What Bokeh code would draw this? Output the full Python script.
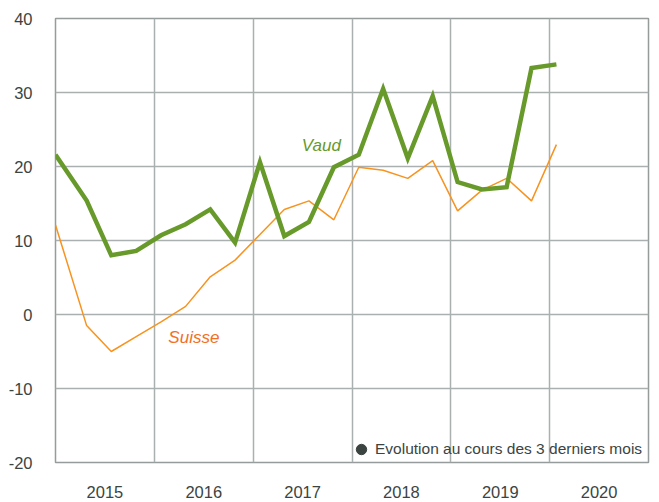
import pandas as pd
from bokeh.plotting import figure
from bokeh.models import FixedTicker, Label, Legend, LegendItem, ColumnDataSource, Range1d
from bokeh.embed import file_html
from bokeh.resources import INLINE

# ---- data ----
dates = ["2015-01-01", "2015-04-26", "2015-07-26", "2015-10-26",
         "2016-01-26", "2016-04-26", "2016-07-26", "2016-10-26",
         "2017-01-26", "2017-04-26", "2017-07-26", "2017-10-26",
         "2018-01-26", "2018-04-26", "2018-07-26", "2018-10-26",
         "2019-01-26", "2019-04-26", "2019-07-26", "2019-10-26",
         "2020-01-26"]
vaud = [21.6, 15.4, 8.0, 8.6, 10.7, 12.2, 14.2, 9.7, 20.6, 10.6, 12.5, 19.9,
        21.6, 30.5, 21.1, 29.5, 17.9, 16.9, 17.2, 33.3, 33.8]
suisse = [12.1, -1.5, -5.0, -3.0, -1.0, 1.1, 5.1, 7.35, 10.8, 14.2, 15.35, 12.8,
          19.9, 19.5, 18.4, 20.8, 14.0, 16.8, 18.4, 15.35, 22.95]
years = [2015, 2016, 2017, 2018, 2019, 2020]
y_ticks = [-20, -10, 0, 10, 20, 30, 40]
legend_text = "Evolution au cours des 3 derniers mois"

# ---- conversion of dates to fractional years ----
dt = pd.to_datetime(dates)
xfrac = [d.year + (d.dayofyear - 1) / (366 if d.is_leap_year else 365) for d in dt]
src = ColumnDataSource(dict(x=xfrac, vaud=vaud, suisse=suisse))

FONT = "Liberation Sans"
GRID = "#aab0af"
TXT = "#3c4442"
GREEN = "#679a2a"
ORANGE = "#f7931e"

p = figure(width=655, height=500, output_backend="svg", toolbar_location=None,
           x_range=Range1d(years[0], years[-1] + 1), y_range=Range1d(-20, 40),
           min_border_left=55, min_border_right=7, min_border_top=18, min_border_bottom=37)

p.outline_line_color = "#959c9b"
p.outline_line_width = 1.5
p.background_fill_color = "white"
p.border_fill_color = "white"

# grid
p.xgrid.ticker = FixedTicker(ticks=years + [years[-1] + 1])
p.ygrid.ticker = FixedTicker(ticks=y_ticks)
for g in (p.xgrid, p.ygrid):
    g.grid_line_color = GRID
    g.grid_line_width = 1.5

# axes
p.xaxis.ticker = FixedTicker(ticks=[y + 0.5 for y in years])
p.xaxis.major_label_overrides = {y + 0.5: str(y) for y in years}
p.yaxis.ticker = FixedTicker(ticks=y_ticks)
p.yaxis.major_label_overrides = {v: str(v) for v in y_ticks}
for ax in (p.xaxis, p.yaxis):
    ax.axis_line_color = None
    ax.major_tick_line_color = None
    ax.minor_tick_line_color = None
    ax.major_label_text_font = FONT
    ax.major_label_text_font_size = "16.5px"
    ax.major_label_text_color = TXT
p.yaxis.major_label_standoff = 17
p.xaxis.major_label_standoff = 17

# lines
p.line("x", "suisse", source=src, line_color=ORANGE, line_width=1.5)
p.line("x", "vaud", source=src, line_color=GREEN, line_width=4.5, line_join="miter")

# series labels
p.add_layout(Label(x=2017.69, y=22.9, text="Vaud", text_font=FONT, text_font_style="italic",
                   text_font_size="17px", text_color=GREEN, text_align="center",
                   text_baseline="middle"))
p.add_layout(Label(x=2016.40, y=-3.1, text="Suisse", text_font=FONT, text_font_style="italic",
                   text_font_size="17px", text_color="#f36f21", text_align="center",
                   text_baseline="middle"))

# legend (marker-only entry, no mark drawn in the plot)
dummy = p.scatter(x=[float("nan")], y=[float("nan")], marker="circle",
                  fill_color=TXT, line_color=TXT)
leg = Legend(items=[LegendItem(label=legend_text, renderers=[dummy])],
             location="bottom_right", margin=0, padding=3, glyph_width=26, glyph_height=26,
             label_standoff=1, label_width=273, border_line_color=None, background_fill_alpha=0,
             label_text_font=FONT, label_text_font_size="15.5px", label_text_color=TXT)
p.add_layout(leg)

open("out.html", "w").write(file_html(p, INLINE))
